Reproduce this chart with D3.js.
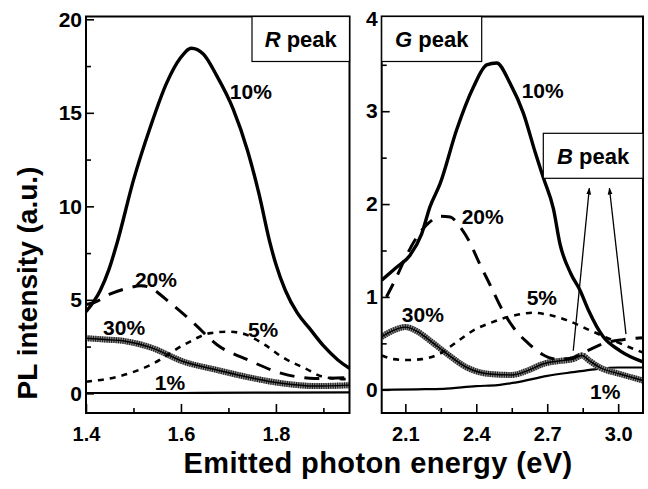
<!DOCTYPE html>
<html>
<head>
<meta charset="utf-8">
<script src="https://cdn.jsdelivr.net/npm/d3@7"></script>
<style>
  html, body { margin: 0; padding: 0; background: #fff; }
  svg { display: block; font-family: "Liberation Sans", Arial, Helvetica, sans-serif; font-weight: bold; }
</style>
</head>
<body>
<svg id="chart" width="648" height="489"></svg>
<script>
// ---------- Data: R peak panel (left) ----------
const rX10 = [1.40, 1.43, 1.448, 1.465, 1.50, 1.535, 1.57, 1.598, 1.622, 1.647, 1.675, 1.71, 1.74, 1.765, 1.787, 1.80, 1.82, 1.845, 1.87, 1.90, 1.93, 1.955];
const rY10 = [4.37, 5.5, 6.6, 8.0, 11.4, 14.2, 16.6, 17.9, 18.45, 18.15, 17.0, 15.2, 13.0, 10.6, 8.1, 6.9, 5.5, 4.3, 3.5, 2.55, 1.8, 1.34];
const rX20 = [1.40, 1.417, 1.45, 1.487, 1.515, 1.53, 1.578, 1.627, 1.676, 1.742, 1.812, 1.882, 1.955];
const rY20 = [4.75, 4.85, 5.3, 5.62, 5.75, 5.7, 4.82, 3.75, 2.6, 1.78, 1.07, 0.80, 0.85];
const rX30 = [1.40, 1.44, 1.48, 1.536, 1.606, 1.676, 1.742, 1.812, 1.882, 1.955];
const rY30 = [2.95, 2.88, 2.8, 2.46, 1.69, 1.25, 0.86, 0.54, 0.39, 0.44];
const rX5 = [1.40, 1.466, 1.536, 1.606, 1.662, 1.70, 1.73, 1.777, 1.812, 1.861, 1.903, 1.955];
const rY5 = [0.62, 0.89, 1.52, 2.59, 3.22, 3.3, 3.2, 2.59, 1.96, 1.34, 0.86, 0.75];
const rX1 = [1.40, 1.60, 1.80, 1.955];
const rY1 = [0.02, 0.02, 0.04, 0.05];

// ---------- Data: G / B peak panel (right) ----------
const gX10 = [2.00, 2.063, 2.12, 2.169, 2.204, 2.247, 2.317, 2.388, 2.444, 2.486, 2.543, 2.599, 2.65, 2.684, 2.726, 2.754, 2.80, 2.839, 2.874, 2.937, 3.008, 3.105];
const gY10 = [1.18, 1.32, 1.45, 1.68, 1.97, 2.22, 2.80, 3.26, 3.50, 3.52, 3.30, 2.98, 2.55, 2.28, 1.95, 1.57, 1.25, 1.07, 0.86, 0.57, 0.42, 0.30];
const gX20 = [2.02, 2.06, 2.10, 2.15, 2.20, 2.25, 2.29, 2.33, 2.37, 2.41, 2.46, 2.51, 2.56, 2.62, 2.68, 2.74, 2.80, 2.87, 2.94, 3.02, 3.105];
const gY20 = [1.0, 1.2, 1.42, 1.65, 1.80, 1.87, 1.86, 1.76, 1.60, 1.38, 1.12, 0.86, 0.66, 0.50, 0.38, 0.33, 0.34, 0.42, 0.50, 0.54, 0.56];
const gX30 = [2.00, 2.05, 2.10, 2.15, 2.204, 2.275, 2.36, 2.458, 2.55, 2.62, 2.684, 2.75, 2.81, 2.846, 2.88, 2.923, 3.008, 3.105];
const gY30 = [0.57, 0.64, 0.675, 0.63, 0.53, 0.39, 0.24, 0.17, 0.16, 0.21, 0.28, 0.31, 0.33, 0.37, 0.31, 0.24, 0.17, 0.10];
const gX5 = [2.00, 2.05, 2.106, 2.17, 2.247, 2.32, 2.388, 2.46, 2.529, 2.60, 2.641, 2.70, 2.783, 2.881, 2.98, 3.105];
const gY5 = [0.37, 0.33, 0.32, 0.33, 0.39, 0.52, 0.64, 0.72, 0.78, 0.82, 0.83, 0.81, 0.75, 0.64, 0.53, 0.40];
const gX1 = [2.00, 2.15, 2.26, 2.40, 2.49, 2.57, 2.70, 2.81, 2.90, 3.00, 3.105];
const gY1 = [0.0, 0.005, 0.01, 0.04, 0.05, 0.08, 0.15, 0.19, 0.22, 0.24, 0.24];

// ---------- Ticks ----------
const rXTicks = [1.4, 1.6, 1.8];
const rXMinor = [1.5, 1.7, 1.9];
const rYTicks = [0, 5, 10, 15, 20];
const rYMinor = [2.5, 7.5, 12.5, 17.5];
const gXTicks = [2.1, 2.4, 2.7, 3.0];
const gXMinor = [2.25, 2.55, 2.85];
const gYTicks = [0, 1, 2, 3, 4];
const gYMinor = [0.5, 1.5, 2.5, 3.5];

// ---------- Annotations ----------
const seriesNames = ["10%", "20%", "30%", "5%", "1%"];
const rLabelX = [1.703, 1.503, 1.436, 1.741, 1.545];
const rLabelY = [15.76, 5.69, 3.12, 3.02, 0.18];
const gLabelX = [2.592, 2.338, 2.085, 2.613, 2.881];
const gLabelY = [3.14, 1.79, 0.73, 0.91, -0.097];
const arrowFromX = [2.81, 3.033];
const arrowFromY = [0.42, 0.60];
const arrowToX = [2.878, 2.963];
const arrowToY = [2.17, 2.17];

const svg = d3.select("#chart");
const defs = svg.append("defs");
defs.append("marker").attr("id", "arr").attr("viewBox", "0 0 10 10")
  .attr("refX", 9).attr("refY", 5).attr("markerWidth", 7).attr("markerHeight", 9)
  .attr("markerUnits", "userSpaceOnUse").attr("orient", "auto")
  .append("path").attr("d", "M0,1.5 L10,5 L0,8.5 Z").attr("fill", "#000");

const plotTop = 16.5, plotBottom = 413;

function panel(cfg) {
  const x = d3.scaleLinear().domain(cfg.xDom).range(cfg.xRange);
  const y = d3.scaleLinear().domain(cfg.yDom).range([plotBottom, plotTop]);
  const g = svg.append("g");

  const styleAxis = (sel, fs) => {
    sel.select(".domain").remove();
    sel.selectAll("line").attr("stroke", "#000").attr("stroke-width", 1.6);
    sel.selectAll("text").attr("font-size", fs).attr("font-weight", "bold")
      .attr("font-family", '"Liberation Sans", Arial, sans-serif').attr("fill", "#000");
  };

  g.append("g").attr("transform", `translate(0,${plotBottom})`)
    .call(d3.axisBottom(x).tickValues(cfg.xTicks).tickSize(-9).tickPadding(14).tickFormat(cfg.xFmt))
    .call(s => styleAxis(s, 20));
  g.append("g").attr("transform", `translate(0,${plotBottom})`)
    .call(d3.axisBottom(x).tickValues(cfg.xMinor).tickSize(-5).tickFormat(""))
    .call(s => styleAxis(s, 20));
  g.append("g").attr("transform", `translate(${cfg.xRange[0]},0)`)
    .call(d3.axisLeft(y).tickValues(cfg.yTicks).tickSize(-8).tickPadding(4).tickFormat(d3.format("d")))
    .call(s => styleAxis(s, 21));
  g.append("g").attr("transform", `translate(${cfg.xRange[0]},0)`)
    .call(d3.axisLeft(y).tickValues(cfg.yMinor).tickSize(-5).tickFormat(""))
    .call(s => styleAxis(s, 21));

  const clipId = "clip" + cfg.id;
  defs.append("clipPath").attr("id", clipId).append("rect")
    .attr("x", cfg.xRange[0]).attr("y", plotTop)
    .attr("width", cfg.xRange[1] - cfg.xRange[0]).attr("height", plotBottom - plotTop);
  const plot = g.append("g").attr("clip-path", `url(#${clipId})`);

  const line = d3.line().x(d => x(d[0])).y(d => y(d[1])).curve(d3.curveMonotoneX);
  const pts = (xs, ys) => xs.map((v, i) => [v, ys[i]]);

  // 1%
  plot.append("path").attr("d", line(pts(cfg.s1[0], cfg.s1[1])))
    .attr("fill", "none").attr("stroke", "#000").attr("stroke-width", 2.2);
  // 30% hatched
  const p30 = line(pts(cfg.s30[0], cfg.s30[1]));
  plot.append("path").attr("d", p30).attr("fill", "none").attr("stroke", "#8a8a8a").attr("stroke-width", 6);
  plot.append("path").attr("d", p30).attr("fill", "none").attr("stroke", "#1a1a1a")
    .attr("stroke-width", 6).attr("stroke-dasharray", "1 1.3");
  plot.append("path").attr("d", p30).attr("fill", "none").attr("stroke", "#000").attr("stroke-width", 1.4);
  // 5% short dash
  plot.append("path").attr("d", line(pts(cfg.s5[0], cfg.s5[1])))
    .attr("fill", "none").attr("stroke", "#000").attr("stroke-width", 2.6).attr("stroke-dasharray", "6 6");
  // 20% long dash
  plot.append("path").attr("d", line(pts(cfg.s20[0], cfg.s20[1])))
    .attr("fill", "none").attr("stroke", "#000").attr("stroke-width", 3).attr("stroke-dasharray", "15 10");
  // 10% solid
  plot.append("path").attr("d", line(pts(cfg.s10[0], cfg.s10[1])))
    .attr("fill", "none").attr("stroke", "#000").attr("stroke-width", 3.4);

  // frame
  g.append("rect").attr("x", cfg.xRange[0]).attr("y", plotTop)
    .attr("width", cfg.xRange[1] - cfg.xRange[0]).attr("height", plotBottom - plotTop)
    .attr("fill", "none").attr("stroke", "#000").attr("stroke-width", 2);

  // series labels
  seriesNames.forEach((n, i) => {
    g.append("text").attr("x", x(cfg.lx[i])).attr("y", y(cfg.ly[i]))
      .attr("font-size", 21).attr("fill", "#000").text(n);
  });

  return { x, y, g };
}

function peakBox(g, x0, y0, w, h, letter) {
  g.append("rect").attr("x", x0).attr("y", y0).attr("width", w).attr("height", h)
    .attr("fill", "#fff").attr("stroke", "#000").attr("stroke-width", 1.2);
  const t = g.append("text").attr("x", x0 + w / 2).attr("y", y0 + h / 2 + 8)
    .attr("text-anchor", "middle").attr("font-size", 22).attr("fill", "#000");
  t.append("tspan").attr("font-style", "italic").text(letter);
  t.append("tspan").text(" peak");
}

const L = panel({
  id: "L", xDom: [1.4, 1.955], xRange: [86, 349.5], yDom: [-1.05, 20.15],
  xTicks: rXTicks, xMinor: rXMinor, yTicks: rYTicks, yMinor: rYMinor, xFmt: d3.format(".1f"),
  s10: [rX10, rY10], s20: [rX20, rY20], s30: [rX30, rY30], s5: [rX5, rY5], s1: [rX1, rY1],
  lx: rLabelX, ly: rLabelY
});
peakBox(L.g, 252, 16.5, 97.5, 45, "R");

const R = panel({
  id: "R", xDom: [2.0, 3.105], xRange: [381.7, 643], yDom: [-0.25, 4.02],
  xTicks: gXTicks, xMinor: gXMinor, yTicks: gYTicks, yMinor: gYMinor, xFmt: d3.format(".1f"),
  s10: [gX10, gY10], s20: [gX20, gY20], s30: [gX30, gY30], s5: [gX5, gY5], s1: [gX1, gY1],
  lx: gLabelX, ly: gLabelY
});
peakBox(R.g, 381.7, 16.5, 100, 45, "G");
peakBox(R.g, 543.3, 133.3, 99.7, 45, "B");

// arrows toward B peak box
arrowFromX.forEach((v, i) => {
  R.g.append("line")
    .attr("x1", R.x(v)).attr("y1", R.y(arrowFromY[i]))
    .attr("x2", R.x(arrowToX[i])).attr("y2", R.y(arrowToY[i]))
    .attr("stroke", "#000").attr("stroke-width", 1.3).attr("marker-end", "url(#arr)");
});

// axis titles
svg.append("text").attr("x", 378).attr("y", 473).attr("text-anchor", "middle")
  .attr("font-size", 29).attr("letter-spacing", 0.4).attr("fill", "#000").text("Emitted photon energy (eV)");
svg.append("text").attr("transform", "translate(37,283) rotate(-90)").attr("text-anchor", "middle")
  .attr("font-size", 28).attr("fill", "#000").text("PL intensity (a.u.)");
</script>
</body>
</html>
